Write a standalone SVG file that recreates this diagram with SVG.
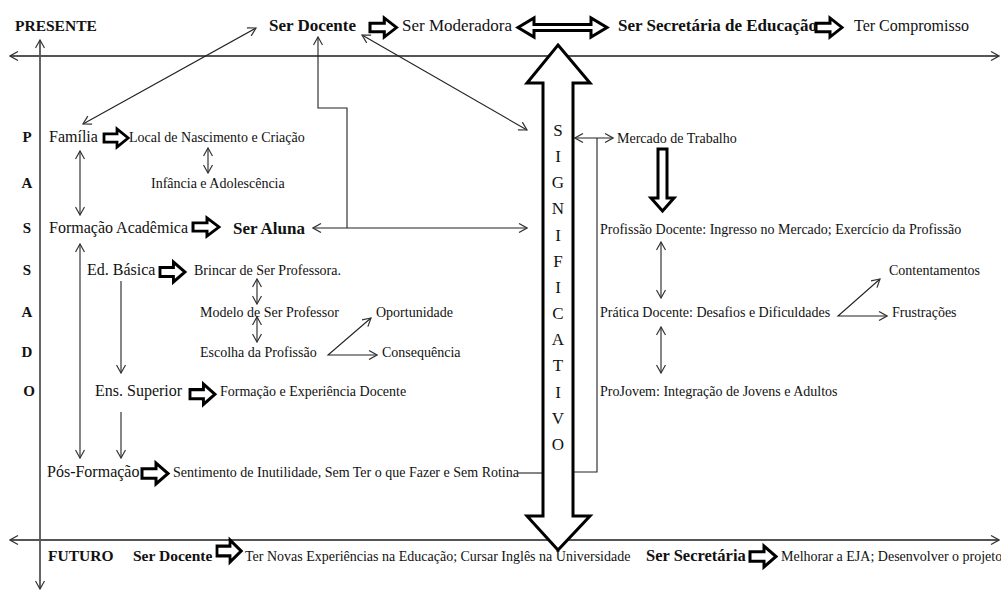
<svg xmlns="http://www.w3.org/2000/svg" xmlns:xlink="http://www.w3.org/1999/xlink" width="1001" height="591" viewBox="0 0 1001 591">
  <style>
    text { font-family: "Liberation Serif", "Times New Roman", serif; fill: #111; }
    .s14 { font-size: 14px; }
    .s16 { font-size: 16px; }
    .s17 { font-size: 17px; }
    .b { font-weight: bold; }
    .axis { stroke: #555; stroke-width: 1.8; fill: none; marker-start: url(#ah); marker-end: url(#ah); }
    .ln { stroke: #222; stroke-width: 1.1; fill: none; }
    .dbl { marker-start: url(#ah); marker-end: url(#ah); }
    .end { marker-end: url(#ah); }
    .beg { marker-start: url(#ah); }
    .blk { fill: #fff; stroke: #000; stroke-width: 3; stroke-linejoin: miter; }
    .sig { font-size: 17px; text-anchor: middle; }
    .col { font-size: 15px; font-weight: bold; text-anchor: middle; }
  </style>
  <defs>
    <marker id="ah" viewBox="0 0 10 10" refX="9" refY="5" markerWidth="10" markerHeight="10" markerUnits="userSpaceOnUse" orient="auto-start-reverse">
      <path d="M1,0.5 L9,5 L1,9.5" fill="none" stroke="#333" stroke-width="1.2"/>
    </marker>
    <!-- outlined block arrow, 26 x 20 -->
    <path id="block" d="M0,5.5 H14 V0 L26,10 L14,20 V14.5 H0 Z"/>
  </defs>

  <rect width="1001" height="591" fill="#fff"/>

  <!-- time axes -->
  <g id="axes">
    <line class="axis" x1="10" y1="56" x2="999" y2="56"/>
    <line class="axis" x1="10" y1="540" x2="999" y2="540"/>
    <line class="axis" x1="40" y1="40" x2="40" y2="589"/>
  </g>

  <g id="connectors">
    <line class="ln dbl" x1="83" y1="124" x2="256" y2="28"/>
    <line class="ln dbl" x1="362" y1="35" x2="527" y2="130"/>
    <path class="ln beg" d="M318,37 V108 H347 V228"/>
    <line class="ln dbl" x1="313" y1="228" x2="527" y2="228"/>
    <line class="ln dbl" x1="80" y1="151" x2="80" y2="215"/>
    <line class="ln dbl" x1="208" y1="148" x2="208" y2="173"/>
    <line class="ln dbl" x1="80" y1="244" x2="80" y2="458"/>
    <line class="ln end" x1="121" y1="281" x2="121" y2="373"/>
    <line class="ln end" x1="121" y1="412" x2="121" y2="458"/>
    <line class="ln dbl" x1="257" y1="279" x2="257" y2="304"/>
    <line class="ln dbl" x1="257" y1="317" x2="257" y2="342"/>
    <path class="ln dbl" d="M371,318 L328,355 L377,355"/>
    <line class="ln" x1="518" y1="473" x2="543" y2="473"/>
    <path class="ln" d="M574,472 H597 V138"/>
    <line class="ln dbl" x1="575" y1="138" x2="613" y2="138"/>
    <line class="ln dbl" x1="661" y1="242" x2="661" y2="298"/>
    <line class="ln dbl" x1="661" y1="327" x2="661" y2="373"/>
    <path class="ln dbl" d="M880,279 L838,316 L887,316"/>

    <!-- block arrows -->
    <use href="#block" class="blk" transform="translate(370,18) scale(1.02,0.95)"/>
    <use href="#block" class="blk" transform="translate(816,18) scale(1.0,0.95)"/>
    <use href="#block" class="blk" transform="translate(104,129) scale(0.93,0.9)"/>
    <use href="#block" class="blk" transform="translate(193,218) scale(1.0,0.9)"/>
    <use href="#block" class="blk" transform="translate(160,262) scale(0.96,1.0)"/>
    <use href="#block" class="blk" transform="translate(190,384) scale(0.96,1.02)"/>
    <use href="#block" class="blk" transform="translate(142,463) scale(1.0,1.05)"/>
    <use href="#block" class="blk" transform="translate(217,540) scale(0.93,1.1)"/>
    <use href="#block" class="blk" transform="translate(750,546) scale(1.0,1.05)"/>
    <!-- double block arrow between Moderadora and Secretária -->
    <path class="blk" d="M518,27.5 L534,18 V24.5 H591 V18 L607,27.5 L591,37 V30.5 H534 V37 Z"/>
    <!-- down block arrow under Mercado de Trabalho -->
    <path class="blk" d="M658,149 H667 V198 H674 L662.5,211 L651,198 H658 Z"/>
  </g>

  <!-- central double arrow -->
  <g id="significativo">
    <path class="blk" stroke-width="3.5" d="M558,45 L590,83 H573 V516 H590 L558,550 L527,516 H543 V83 H527 Z"/>
    <text class="sig" x="558" y="136">S</text>
    <text class="sig" x="558" y="162">I</text>
    <text class="sig" x="558" y="188">G</text>
    <text class="sig" x="558" y="214">N</text>
    <text class="sig" x="558" y="241">I</text>
    <text class="sig" x="558" y="267">F</text>
    <text class="sig" x="558" y="293">I</text>
    <text class="sig" x="558" y="319">C</text>
    <text class="sig" x="558" y="345">A</text>
    <text class="sig" x="558" y="371">T</text>
    <text class="sig" x="558" y="398">I</text>
    <text class="sig" x="558" y="424">V</text>
    <text class="sig" x="558" y="450">O</text>
  </g>

  <!-- present -->
  <g id="presente"><text class="b" x="15" y="31" style="font-size:15.5px">PRESENTE</text></g>
  <g id="ser-docente"><text class="s17 b" x="269" y="31">Ser Docente</text></g>
  <g id="ser-moderadora"><text class="s17" x="402" y="31">Ser Moderadora</text></g>
  <g id="ser-secretaria-educacao"><text class="s17 b" x="618" y="31">Ser Secretária de Educação</text></g>
  <g id="ter-compromisso"><text class="s16" x="854" y="31">Ter Compromisso</text></g>

  <!-- past column -->
  <g id="passado">
    <text class="col" x="27" y="142">P</text>
    <text class="col" x="27" y="188">A</text>
    <text class="col" x="27" y="233">S</text>
    <text class="col" x="27" y="275">S</text>
    <text class="col" x="27" y="317">A</text>
    <text class="col" x="27" y="357">D</text>
    <text class="col" x="29" y="396">O</text>
  </g>

  <g id="familia"><text class="s16" x="49" y="142">Família</text></g>
  <g id="local-nascimento"><text class="s14" x="129" y="142">Local de Nascimento e Criação</text></g>
  <g id="infancia"><text class="s14" x="151" y="188">Infância e Adolescência</text></g>
  <g id="formacao-academica"><text class="s16" x="49" y="233">Formação Acadêmica</text></g>
  <g id="ser-aluna"><text class="s17 b" x="233" y="234">Ser Aluna</text></g>
  <g id="ed-basica"><text class="s16" x="87" y="275">Ed. Básica</text></g>
  <g id="brincar"><text class="s14" x="194" y="275">Brincar de Ser Professora.</text></g>
  <g id="modelo"><text class="s14" x="200" y="317">Modelo de Ser Professor</text></g>
  <g id="oportunidade"><text class="s14" x="376" y="317">Oportunidade</text></g>
  <g id="escolha"><text class="s14" x="200" y="357">Escolha da Profissão</text></g>
  <g id="consequencia"><text class="s14" x="382" y="357">Consequência</text></g>
  <g id="ens-superior"><text class="s16" x="95" y="396">Ens. Superior</text></g>
  <g id="formacao-experiencia"><text class="s14" x="220" y="396">Formação e Experiência Docente</text></g>
  <g id="pos-formacao"><text class="s16" x="47" y="477">Pós-Formação</text></g>
  <g id="sentimento"><text class="s14" x="173" y="477">Sentimento de Inutilidade, Sem Ter o que Fazer e Sem Rotina</text></g>

  <!-- right side -->
  <g id="mercado"><text class="s14" x="617" y="143">Mercado de Trabalho</text></g>
  <g id="profissao-docente"><text class="s14" x="600" y="234">Profissão Docente: Ingresso no Mercado; Exercício da Profissão</text></g>
  <g id="pratica-docente"><text class="s14" x="600" y="317">Prática Docente: Desafios e Dificuldades</text></g>
  <g id="contentamentos"><text class="s14" x="889" y="275">Contentamentos</text></g>
  <g id="frustracoes"><text class="s14" x="892" y="317">Frustrações</text></g>
  <g id="projovem"><text class="s14" x="600" y="396">ProJovem: Integração de Jovens e Adultos</text></g>

  <!-- future -->
  <g id="futuro"><text class="b" x="48" y="561" style="font-size:15.5px">FUTURO</text></g>
  <g id="futuro-ser-docente"><text class="b" x="133" y="561" style="font-size:15.5px">Ser Docente</text></g>
  <g id="novas-experiencias"><text class="s14" x="245" y="561">Ter Novas Experiências na Educação; Cursar  Inglês na Universidade</text></g>
  <g id="futuro-ser-secretaria"><text class="b" x="646" y="561" style="font-size:16.5px">Ser Secretária</text></g>
  <g id="melhorar-eja"><text class="s14" x="781" y="561">Melhorar a EJA; Desenvolver o projeto</text></g>
</svg>
